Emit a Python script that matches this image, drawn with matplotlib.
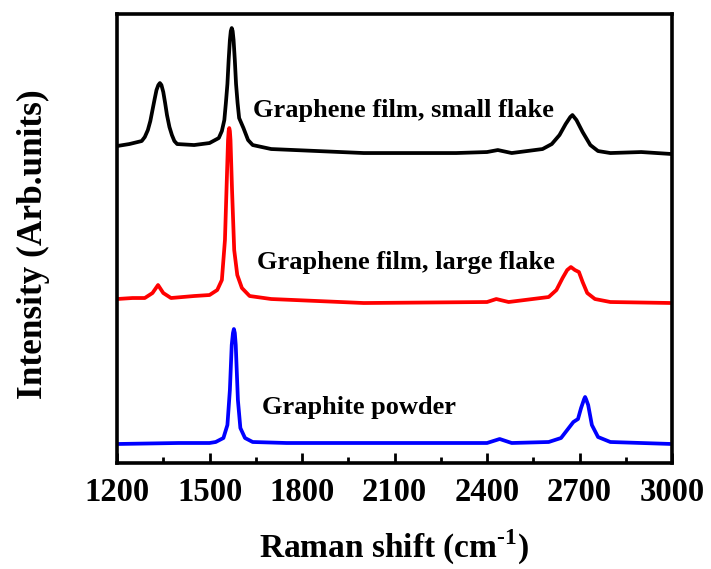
import numpy as np
import matplotlib
matplotlib.use('Agg')
import matplotlib.pyplot as plt
from matplotlib.ticker import MultipleLocator

plt.rcParams['font.family'] = ['Liberation Serif', 'DejaVu Serif']
plt.rcParams['font.weight'] = 'bold'
plt.rcParams['mathtext.fontset'] = 'custom'
plt.rcParams['mathtext.rm'] = 'Liberation Serif:bold'
plt.rcParams['mathtext.bf'] = 'Liberation Serif:bold'

# --- spectra (Raman shift, intensity in arb. units) ---
small_x = [1200, 1240, 1280, 1290, 1300, 1308, 1315, 1322, 1328, 1334, 1339, 1344, 1350,
           1356, 1362, 1370, 1378, 1386, 1395, 1450, 1500, 1530, 1540, 1548, 1553, 1558,
           1562, 1566, 1569, 1572, 1575, 1578, 1582, 1586, 1591, 1596, 1610, 1625, 1640,
           1700, 2000, 2300, 2400, 2435, 2480, 2580, 2610, 2635, 2655, 2670, 2677, 2690,
           2710, 2735, 2760, 2800, 2900, 3000]
small_y = [317, 319, 322, 326, 333, 342, 353, 364, 373, 378, 380, 378, 371,
           360, 348, 336, 328, 322, 319, 318, 320, 325, 332, 343, 360, 379,
           403, 423, 432, 435, 432, 423, 403, 379, 360, 345, 335, 323, 318,
           314, 310, 310, 311, 313, 310, 314, 319, 328, 339, 346, 348, 343,
           331, 318, 312, 310, 311, 309]

large_x = [1200, 1250, 1290, 1315, 1333, 1350, 1375, 1450, 1500, 1525, 1540, 1550, 1556,
           1560, 1562, 1564, 1566, 1568, 1573, 1580, 1590, 1605, 1630, 1700, 2000, 2400,
           2430, 2470, 2600, 2625, 2645, 2660, 2672, 2685, 2698, 2710, 2725, 2750, 2800,
           3000]
large_y = [164, 165, 165, 170, 178, 170, 165, 167, 168, 173, 183, 223, 283,
           323, 332, 335, 332, 323, 273, 213, 188, 175, 167, 164, 160, 161,
           164, 161, 166, 173, 185, 193, 196, 193, 191, 181, 170, 164, 161,
           160]

powder_x = [1200, 1400, 1500, 1520, 1545, 1558, 1566, 1572, 1576, 1579, 1582, 1585, 1592,
            1600, 1615, 1640, 1750, 2000, 2400, 2441, 2480, 2600, 2640, 2665, 2680, 2695,
            2705, 2715, 2718, 2721, 2728, 2740, 2760, 2800, 3000]
powder_y = [19, 20, 20, 21, 25, 38, 73, 118, 130, 134, 130, 118, 63,
            35, 25, 21, 20, 20, 20, 24, 20, 21, 25, 35, 41, 44,
            55, 64, 66, 64, 58, 38, 26, 21, 19]

labels = ['Graphene film, small flake', 'Graphene film, large flake', 'Graphite powder']
label_x = [1641, 1654, 1670]
label_y = [353, 201, 56]

fig = plt.figure(figsize=(7.11, 5.69), dpi=100)
ax = fig.add_axes([0.1646, 0.1863, 0.7806, 0.789])

ax.plot(small_x, small_y, color='black', lw=2.7, solid_joinstyle='round')
ax.plot(large_x, large_y, color='red', lw=2.7, solid_joinstyle='round')
ax.plot(powder_x, powder_y, color='blue', lw=2.7, solid_joinstyle='round')

for t, lx, ly in zip(labels, label_x, label_y):
    ax.text(lx, ly, t, fontsize=19, fontweight='bold', ha='left', va='center')

ax.set_xlim(1200, 3000)
ax.set_ylim(0, 449)
ax.xaxis.set_major_locator(MultipleLocator(300))
ax.xaxis.set_minor_locator(MultipleLocator(150))
ax.set_yticks([])
ax.tick_params(axis='x', which='major', direction='in', length=7, width=2,
               labelsize=23.5, pad=10)
ax.tick_params(axis='x', which='minor', direction='in', length=4, width=2)
for lab in ax.get_xticklabels():
    lab.set_fontweight('bold')
for sp in ax.spines.values():
    sp.set_linewidth(2.6)

ax.set_xlabel(r'Raman shift (cm$^{\text{-1}}$)', fontsize=24, fontweight='bold')
ax.set_ylabel('Intensity (Arb.units)', fontsize=25.4, fontweight='bold')
ax.xaxis.set_label_coords(0.498, -0.145)
ax.yaxis.set_label_coords(-0.121, 0.488)

fig.savefig('out.png', dpi=100)
